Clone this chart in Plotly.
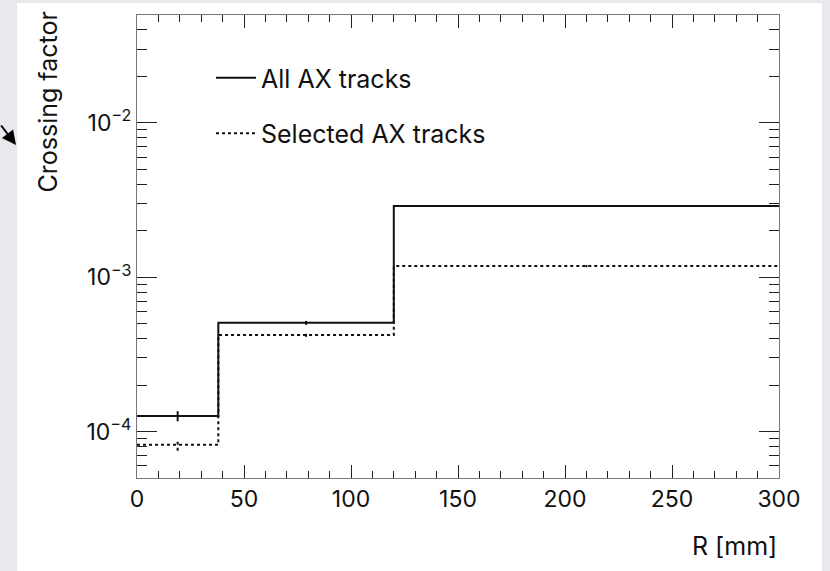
import plotly.graph_objects as go

# ---- data ----
bin_edges = [0, 38, 120, 300]
all_vals = [1.26e-4, 5.06e-4, 2.89e-3]
all_errs = [9.5e-6, 1.5e-5, 2.5e-5]
sel_vals = [8.2e-5, 4.23e-4, 1.18e-3]
sel_errs = [7e-6, 1.2e-5, 2.0e-5]
series_names = ["All AX tracks", "Selected AX tracks"]
x_tick_vals = [0, 50, 100, 150, 200, 250, 300]
y_tick_vals = [1e-4, 1e-3, 1e-2]
y_tick_text = ["10<sup>−4</sup>", "10<sup>−3</sup>", "10<sup>−2</sup>"]
x_title = "R [mm]"
y_title = "Crossing factor"

FONT = "Inter, Liberation Sans, Arial, sans-serif"
W, H = 830, 571
L, R, T, B = 137, 51, 15, 93
pw, ph = W - L - R, H - T - B

def px2x(px):
    return (px - L) / pw

def px2y(py):
    return (H - B - py) / ph

centers = [(a + b) / 2 for a, b in zip(bin_edges[:-1], bin_edges[1:])]

fig = go.Figure()

styles = [dict(color="#111111", width=2, dash="solid"),
          dict(color="#111111", width=2, dash="dot")]

for name, vals, errs, st in zip(series_names, [all_vals, sel_vals],
                                [all_errs, sel_errs], styles):
    fig.add_trace(go.Scatter(
        x=bin_edges, y=vals + [vals[-1]], mode="lines", line_shape="hv",
        line=st, name=name, legendgroup=name, showlegend=True,
        hoverinfo="skip"))
    ex, ey = [], []
    for c, v, e in zip(centers, vals, errs):
        ex += [c, c, None]
        ey += [v - e, v + e, None]
    fig.add_trace(go.Scatter(
        x=ex, y=ey, mode="lines", line=st, showlegend=False,
        legendgroup=name, hoverinfo="skip"))

# minor tick positions on the log axis
y_minor = [k * 10 ** n for n in range(-5, -1) for k in range(2, 10)]

fig.update_layout(
    width=W, height=H,
    margin=dict(l=L, r=R, t=T, b=B),
    paper_bgcolor="#e9e9ed",
    plot_bgcolor="white",
    font=dict(family=FONT, size=23, color="#111111"),
    showlegend=True,
    legend=dict(x=px2x(211), y=px2y(55), xanchor="left", yanchor="top",
                bgcolor="rgba(0,0,0,0)", font=dict(size=25),
                tracegroupgap=20, itemwidth=40),
    shapes=[dict(type="rect", xref="paper", yref="paper", layer="below",
                 x0=px2x(17), x1=px2x(822), y0=px2y(575), y1=px2y(3),
                 fillcolor="white", line=dict(width=0))],
    annotations=[
        dict(text=y_title, xref="paper", yref="paper", x=px2x(47),
             y=px2y(10), xanchor="center", yanchor="top", textangle=-90,
             showarrow=False, font=dict(size=25)),
        dict(text=x_title, xref="paper", yref="paper", x=1.0, y=px2y(546),
             xanchor="right", yanchor="middle", showarrow=False,
             font=dict(size=25)),
        dict(text="", xref="paper", yref="paper", x=px2x(16), y=px2y(145),
             ax=-22, ay=-21, showarrow=True, arrowhead=2, arrowsize=1.4,
             arrowwidth=2, arrowcolor="#000000"),
    ],
)

fig.update_xaxes(
    range=[0, 300], tickmode="array", tickvals=x_tick_vals,
    ticks="inside", ticklen=13, tickwidth=1, tickcolor="#222222",
    showline=True, linecolor="#777777", linewidth=1, mirror="allticks",
    showgrid=False, zeroline=False,
    tickfont=dict(size=23),
    minor=dict(ticks="inside", ticklen=7, tickwidth=1, tickcolor="#222222",
               dtick=10, showgrid=False),
)

fig.update_yaxes(
    type="log", range=[-4.30103, -1.30103],
    tickmode="array", tickvals=y_tick_vals, ticktext=y_tick_text,
    ticks="inside", ticklen=20, tickwidth=1, tickcolor="#222222",
    showline=True, linecolor="#777777", linewidth=1, mirror="allticks",
    showgrid=False, zeroline=False,
    tickfont=dict(size=23),
    minor=dict(ticks="inside", ticklen=10, tickwidth=1, tickcolor="#222222",
               tickmode="array", tickvals=y_minor, showgrid=False),
)

fig.write_html("out.html",
               config={"displayModeBar": False},
               post_script="document.body.style.margin='0';"
                           "document.body.style.background='white';")
